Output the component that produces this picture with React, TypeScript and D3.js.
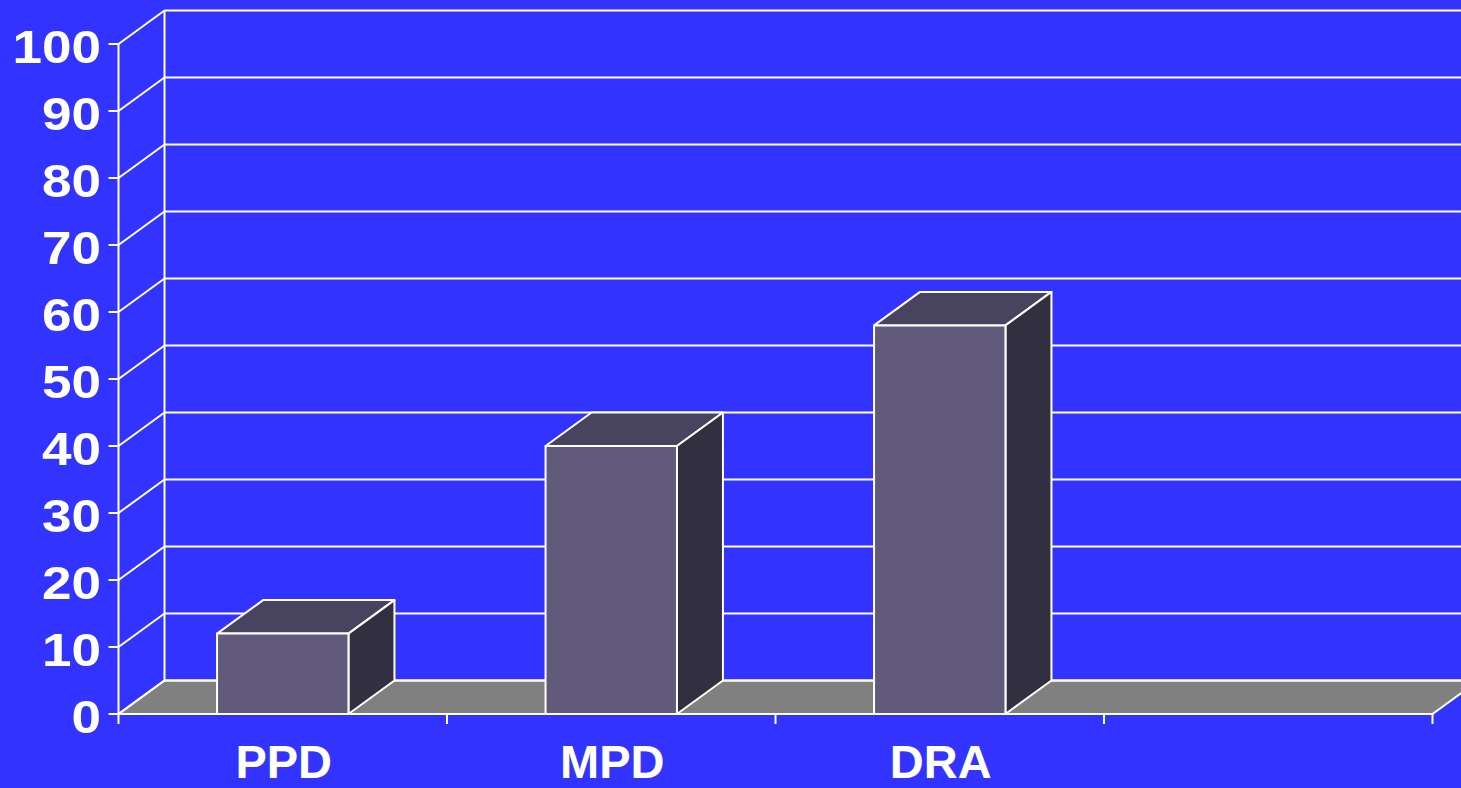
import React from "react";
import * as d3 from "d3";

const categories = ["PPD", "MPD", "DRA", ""];
const values: (number | null)[] = [12, 40, 58, null];
const yTicks = [0, 10, 20, 30, 40, 50, 60, 70, 80, 90, 100];

const W = 1461;
const H = 788;
const left = 118.5;
const right = 1432.5;
const bottom = 714;
const top = 44;
const DX = 46;
const DY = -33.5;

const BG = "#3333FF";
const FLOOR = "#808080";
const FRONT = "#625a7b";
const TOP = "#48445f";
const SIDE = "#322f40";
const FONT = "'Liberation Sans', Arial, Helvetica, sans-serif";

export default function App() {
  const x = d3.scaleBand<string>().domain(categories).range([left, right]).padding(0);
  const y = d3.scaleLinear().domain([0, 100]).range([bottom, top]);
  const bw = x.bandwidth() * 0.4;
  const pts = (arr: [number, number][]) => arr.map((p) => p.join(",")).join(" ");

  const bars = categories.map((c, i) => {
    const v = values[i];
    if (v == null) return null;
    const x0 = (x(c) as number) + x.bandwidth() / 2 - bw / 2;
    const x1 = x0 + bw;
    const yt = y(v);
    const yb = y(0);
    return (
      <g key={c} stroke="#fff" strokeWidth={2} strokeLinejoin="round">
        <polygon
          points={pts([[x0, yt], [x1, yt], [x1 + DX, yt + DY], [x0 + DX, yt + DY]])}
          fill={TOP}
        />
        <polygon
          points={pts([[x1, yt], [x1 + DX, yt + DY], [x1 + DX, yb + DY], [x1, yb]])}
          fill={SIDE}
        />
        <rect x={x0} y={yt} width={bw} height={yb - yt} fill={FRONT} />
      </g>
    );
  });

  const boundaries = [...categories.map((c) => x(c) as number), right];

  return (
    <svg
      width={W}
      height={H}
      style={{ position: "absolute", left: 0, top: 0, display: "block" }}
      fontFamily={FONT}
    >
      <rect x={0} y={0} width={W} height={H} fill={BG} />
      {/* floor */}
      <polygon
        points={pts([[left, bottom], [right, bottom], [right + DX, bottom + DY], [left + DX, bottom + DY]])}
        fill={FLOOR}
        stroke="#fff"
        strokeWidth={2}
      />
      {/* back wall gridlines */}
      {yTicks.map((t) => (
        <g key={t} stroke="#fff" strokeWidth={2} fill="none">
          <line x1={left + DX} x2={right + DX + 20} y1={y(t) + DY} y2={y(t) + DY} />
          <line x1={left} x2={left + DX} y1={y(t)} y2={y(t) + DY} />
          <line x1={left - 10} x2={left} y1={y(t)} y2={y(t)} />
        </g>
      ))}
      <line x1={left + DX} x2={left + DX} y1={y(100) + DY} y2={y(0) + DY} stroke="#fff" strokeWidth={2} />
      <line x1={left} x2={left} y1={y(100)} y2={y(0)} stroke="#fff" strokeWidth={2} />
      {/* category ticks */}
      {boundaries.map((b, i) => (
        <line key={i} x1={b} x2={b} y1={bottom} y2={bottom + 10} stroke="#fff" strokeWidth={2} />
      ))}
      <line x1={left} x2={right} y1={bottom} y2={bottom} stroke="#fff" strokeWidth={2} />
      {bars}
      {/* y labels */}
      {yTicks.map((t) => (
        <text
          key={t}
          transform={`translate(101,${y(t) + 18.5}) scale(1.13,1)`}
          textAnchor="end"
          fill="#fff"
          fontSize={47}
          fontWeight="bold"
        >
          {t}
        </text>
      ))}
      {/* category labels */}
      {categories.map((c) => (
        <text
          key={c || "blank"}
          x={(x(c) as number) + x.bandwidth() / 2 + 1}
          y={778}
          textAnchor="middle"
          fill="#fff"
          fontSize={47}
          fontWeight="bold"
        >
          {c}
        </text>
      ))}
    </svg>
  );
}
